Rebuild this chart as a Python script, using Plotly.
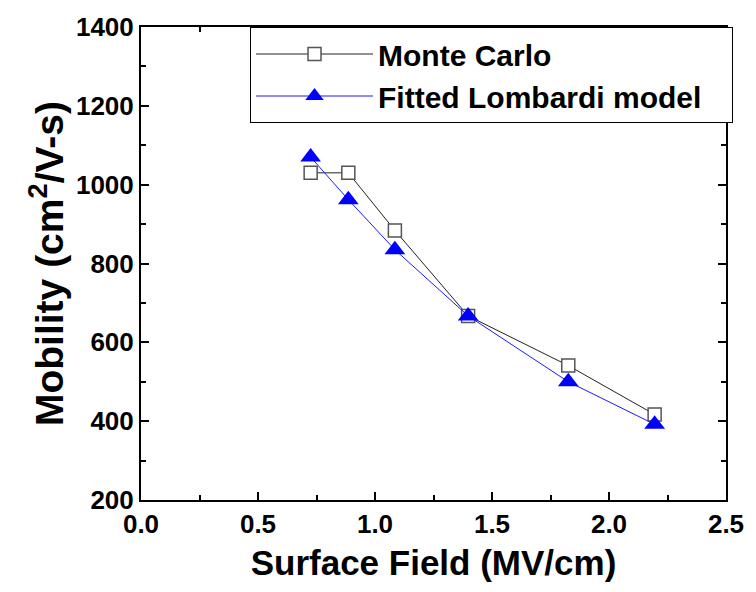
import plotly.graph_objects as go

field = [0.725, 0.886, 1.085, 1.398, 1.826, 2.195]
monte_carlo = [1030, 1030, 884, 667, 541, 417]
lombardi = [1070, 962, 835, 667, 500, 392]

FONT = "Liberation Sans"
PAD = "\u00a0\u00a0\u00a0"

fig = go.Figure()
fig.add_trace(go.Scatter(
    x=field, y=monte_carlo, name="Monte Carlo" + PAD, mode="lines+markers",
    line=dict(color="#222222", width=1),
    marker=dict(symbol="square", size=13, color="white",
                line=dict(color="#555555", width=1.5)),
))
fig.add_trace(go.Scatter(
    x=field, y=lombardi, name="Fitted Lombardi model" + PAD, mode="lines+markers",
    line=dict(color="#1a1aff", width=1),
    marker=dict(symbol="triangle-up", size=18, color="#0000ff",
                line=dict(color="#0000ff", width=0)),
))

axis_common = dict(
    showline=True, linecolor="black", linewidth=2, mirror="ticks",
    ticks="inside", ticklen=8, tickwidth=1.5, tickcolor="black",
    showgrid=False, zeroline=False,
    tickfont=dict(family=FONT, size=26, color="black", weight="bold"),
)

fig.update_xaxes(
    range=[0, 2.5], dtick=0.5, tickformat=".1f",
    minor=dict(dtick=0.25, ticks="inside", ticklen=5, tickwidth=1.5, tickcolor="black"),
    title=dict(text="Surface Field (MV/cm)",
               font=dict(family=FONT, size=35, color="black", weight="bold"),
               standoff=12),
    **axis_common,
)
fig.update_yaxes(
    range=[200, 1400], dtick=200,
    minor=dict(dtick=100, ticks="inside", ticklen=5, tickwidth=1.5, tickcolor="black"),
    title=dict(text="Mobility (cm<sup>2</sup>/V-s)",
               font=dict(family=FONT, size=39, color="black", weight="bold"),
               standoff=0),
    **axis_common,
)

fig.update_layout(
    width=756, height=592,
    margin=dict(l=141, r=24, t=21, b=92),
    paper_bgcolor="white", plot_bgcolor="white",
    font=dict(family=FONT, color="black"),
    legend=dict(
        x=1.012, y=1.0, xref="paper", yref="paper",
        xanchor="right", yanchor="top",
        font=dict(family=FONT, size=30, color="black", weight="bold"),
        bordercolor="black", borderwidth=1, bgcolor="white",
        itemwidth=117, tracegroupgap=0,
    ),
    showlegend=True,
)

fig.write_html("out.html")
